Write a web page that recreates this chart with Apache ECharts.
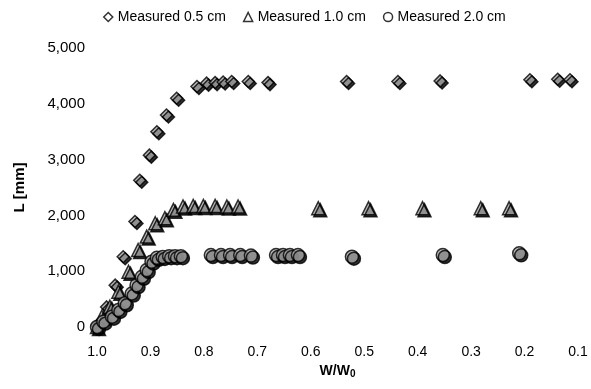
<!DOCTYPE html>
<html>
<head>
<meta charset="utf-8">
<script src="https://cdn.jsdelivr.net/npm/echarts@6/dist/echarts.min.js"></script>
<style>
  html, body { margin: 0; padding: 0; background: #fff; }
  #chart { width: 591px; height: 389px; }
</style>
</head>
<body>
<div id="chart"></div>
<script>
// W/W0 and L [mm]
const xTicks = [1.0, 0.9, 0.8, 0.7, 0.6, 0.5, 0.4, 0.3, 0.2, 0.1]
const yTicks = [0, 1000, 2000, 3000, 4000, 5000]

const w05 = [1.0, 0.982, 0.966, 0.951, 0.929, 0.920, 0.902, 0.888, 0.870, 0.851, 0.813, 0.795, 0.779, 0.764, 0.748, 0.717, 0.680, 0.533, 0.437, 0.358, 0.190, 0.138, 0.115]
const l05 = [30, 360, 750, 1260, 1890, 2630, 3080, 3500, 3800, 4100, 4310, 4370, 4380, 4390, 4400, 4400, 4380, 4400, 4400, 4410, 4430, 4440, 4430]

const w10 = [1.0, 0.991, 0.976, 0.960, 0.941, 0.923, 0.907, 0.891, 0.873, 0.857, 0.839, 0.820, 0.801, 0.779, 0.757, 0.736, 0.586, 0.492, 0.391, 0.282, 0.229]
const l10 = [0, 185, 364, 633, 990, 1380, 1620, 1860, 1950, 2100, 2160, 2170, 2170, 2170, 2160, 2160, 2130, 2130, 2130, 2130, 2130]

const w20 = [1.0, 0.988, 0.972, 0.960, 0.948, 0.935, 0.926, 0.916, 0.907, 0.898, 0.888, 0.877, 0.865, 0.854, 0.843, 0.787, 0.768, 0.751, 0.732, 0.712, 0.665, 0.652, 0.639, 0.624, 0.523, 0.353, 0.210]
const l20 = [0, 95, 185, 305, 425, 600, 750, 900, 1020, 1170, 1240, 1255, 1270, 1270, 1270, 1290, 1290, 1290, 1290, 1280, 1290, 1290, 1290, 1290, 1260, 1290, 1320]

const names = ['Measured 0.5 cm', 'Measured 1.0 cm', 'Measured 2.0 cm']

let chart = echarts.init(document.getElementById('chart'))

function pairs(xs, ys) {
  return xs.map((x, i) => [x, ys[i]])
}

// Marker: grau, schwarzer Rand, harter Schatten nach rechts unten
function markerStyle() {
  return {
    color: '#a8a8a8',
    borderColor: '#000',
    borderWidth: 1.5,
    shadowColor: '#000',
    shadowBlur: 0,
    shadowOffsetX: 2,
    shadowOffsetY: 2
  }
}

// Legendensymbole: weiss mit schwarzem Rand, ohne Schatten
function legendIcon(icon, name) {
  return {
    name: name,
    icon: icon,
    itemStyle: { color: '#fff', borderColor: '#000', borderWidth: 1.5, shadowBlur: 0, shadowOffsetX: 0, shadowOffsetY: 0 }
  }
}

let option = {
  backgroundColor: '#fff',
  animation: false,
  textStyle: { fontFamily: 'Liberation Sans, Arial, sans-serif' },
  grid: { left: 97, right: 13, top: 48, bottom: 62 },
  legend: {
    top: 5,
    left: 98,
    itemWidth: 9,
    itemHeight: 9,
    itemGap: 17,
    textStyle: { fontSize: 14, color: '#000' },
    data: [
      legendIcon('diamond', names[0]),
      legendIcon('triangle', names[1]),
      legendIcon('circle', names[2])
    ]
  },
  xAxis: {
    type: 'value',
    inverse: true,
    min: xTicks[xTicks.length - 1],
    max: xTicks[0],
    interval: 0.1,
    name: '{a|W/W}{b|0}',
    nameLocation: 'middle',
    nameGap: 33,
    nameTextStyle: {
      rich: {
        a: { fontSize: 14, fontWeight: 'bold', color: '#000' },
        b: { fontSize: 10, fontWeight: 'bold', color: '#000', verticalAlign: 'bottom', padding: [6, 0, 0, 0] }
      }
    },
    axisLine: { show: false },
    axisTick: { show: false },
    splitLine: { show: false },
    axisLabel: {
      color: '#000',
      fontSize: 14,
      margin: 18,
      formatter: v => v.toFixed(1)
    }
  },
  yAxis: {
    type: 'value',
    min: yTicks[0],
    max: yTicks[yTicks.length - 1],
    interval: 1000,
    name: 'L [mm]',
    nameLocation: 'middle',
    nameGap: 70,
    nameTextStyle: { fontSize: 15, fontWeight: 'bold', color: '#000' },
    axisLine: { show: false },
    axisTick: { show: false },
    splitLine: { show: false },
    axisLabel: {
      color: '#000',
      fontSize: 15,
      margin: 12,
      formatter: v => v.toLocaleString('en-US')
    }
  },
  series: [
    {
      name: names[0],
      type: 'scatter',
      symbol: 'diamond',
      symbolSize: 12,
      itemStyle: markerStyle(),
      data: pairs(w05, l05)
    },
    {
      name: names[1],
      type: 'scatter',
      symbol: 'triangle',
      symbolSize: 13,
      itemStyle: markerStyle(),
      data: pairs(w10, l10)
    },
    {
      name: names[2],
      type: 'scatter',
      symbol: 'circle',
      symbolSize: 13,
      itemStyle: markerStyle(),
      data: pairs(w20, l20)
    }
  ]
}

chart.setOption(option)
</script>
</body>
</html>
